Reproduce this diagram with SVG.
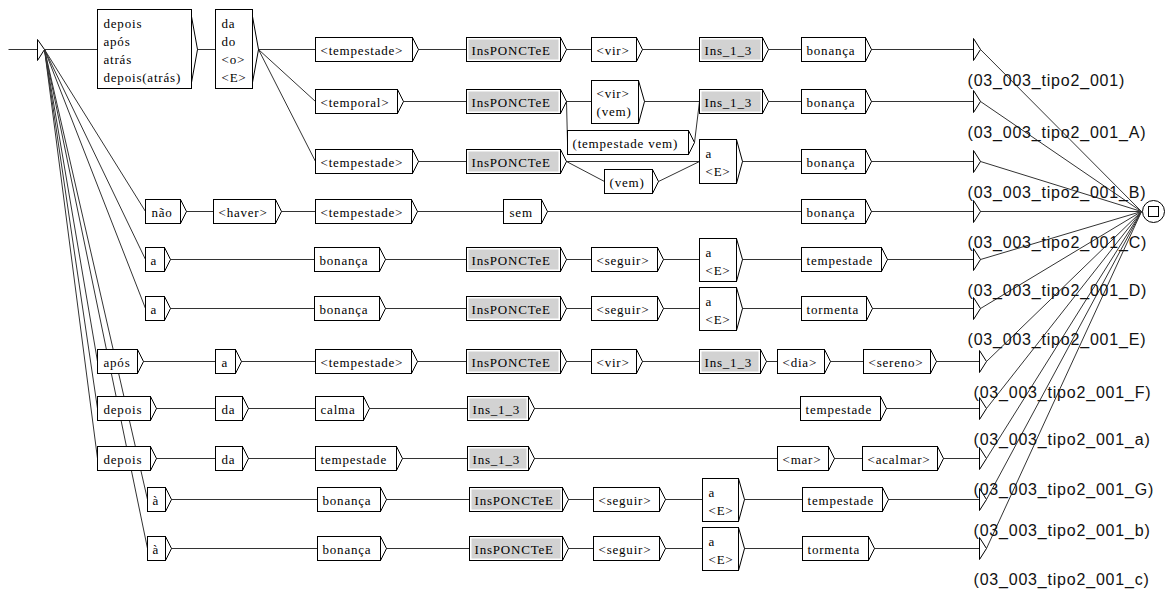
<svg xmlns="http://www.w3.org/2000/svg" width="1169" height="592" viewBox="0 0 1169 592">
<style>
.b{fill:#fff;stroke:#000;stroke-width:1}
.g{fill:#d2d2d2;stroke:none}
.br{fill:none;stroke:#000;stroke-width:1}
.t{font-family:"Liberation Serif","Times New Roman",serif;font-size:13px;letter-spacing:0.8px;fill:#000}
.o{font-family:"Liberation Sans",Arial,sans-serif;font-size:16px;letter-spacing:0.8px;fill:#111}
.c line{stroke:#333;stroke-width:1}
.st{fill:#fff;stroke:#000;stroke-width:1}
</style>
<rect x="0" y="0" width="1169" height="592" fill="#fff"/>
<g transform="translate(0.5,0.5)">
<g class="c" id="connectors">
<line x1="8" y1="49" x2="37" y2="49"/>
<line x1="44" y1="49" x2="97" y2="49"/>
<line x1="44" y1="49" x2="145" y2="211"/>
<line x1="44" y1="49" x2="145" y2="259"/>
<line x1="44" y1="49" x2="145" y2="308"/>
<line x1="44" y1="49" x2="97" y2="361"/>
<line x1="44" y1="49" x2="97" y2="408"/>
<line x1="44" y1="49" x2="97" y2="458"/>
<line x1="44" y1="49" x2="147" y2="499"/>
<line x1="44" y1="49" x2="147" y2="548"/>
<line x1="197" y1="49" x2="215" y2="49"/>
<line x1="258" y1="49" x2="315" y2="49"/>
<line x1="258" y1="49" x2="315" y2="101"/>
<line x1="258" y1="49" x2="315" y2="161"/>
<!-- row1 -->
<line x1="418" y1="49" x2="466" y2="49"/>
<line x1="566" y1="49" x2="591" y2="49"/>
<line x1="642" y1="49" x2="699" y2="49"/>
<line x1="768" y1="49" x2="801" y2="49"/>
<line x1="871" y1="49" x2="973" y2="49"/>
<!-- row2 -->
<line x1="403" y1="101" x2="466" y2="101"/>
<line x1="566" y1="101" x2="591" y2="101"/>
<line x1="566" y1="101" x2="567" y2="142"/>
<line x1="644" y1="101" x2="699" y2="101"/>
<line x1="694" y1="142" x2="699" y2="101"/>
<line x1="768" y1="101" x2="801" y2="101"/>
<line x1="871" y1="101" x2="973" y2="101"/>
<!-- row3 -->
<line x1="418" y1="161" x2="466" y2="161"/>
<line x1="566" y1="161" x2="699" y2="161"/>
<line x1="566" y1="161" x2="604" y2="181"/>
<line x1="658" y1="181" x2="699" y2="161"/>
<line x1="742" y1="161" x2="801" y2="161"/>
<line x1="871" y1="161" x2="973" y2="161"/>
<!-- row4 -->
<line x1="186" y1="211" x2="213" y2="211"/>
<line x1="281" y1="211" x2="315" y2="211"/>
<line x1="417" y1="211" x2="503" y2="211"/>
<line x1="547" y1="211" x2="801" y2="211"/>
<line x1="871" y1="211" x2="973" y2="211"/>
<!-- row5 -->
<line x1="170" y1="259" x2="314" y2="259"/>
<line x1="385" y1="259" x2="466" y2="259"/>
<line x1="566" y1="259" x2="591" y2="259"/>
<line x1="663" y1="259" x2="699" y2="259"/>
<line x1="742" y1="259" x2="801" y2="259"/>
<line x1="887" y1="259" x2="973" y2="259"/>
<!-- row6 -->
<line x1="170" y1="308" x2="314" y2="308"/>
<line x1="385" y1="308" x2="466" y2="308"/>
<line x1="566" y1="308" x2="591" y2="308"/>
<line x1="663" y1="308" x2="699" y2="308"/>
<line x1="742" y1="308" x2="801" y2="308"/>
<line x1="872" y1="308" x2="973" y2="308"/>
<!-- row7 -->
<line x1="143" y1="361" x2="215" y2="361"/>
<line x1="241" y1="361" x2="315" y2="361"/>
<line x1="417" y1="361" x2="466" y2="361"/>
<line x1="566" y1="361" x2="591" y2="361"/>
<line x1="642" y1="361" x2="699" y2="361"/>
<line x1="766" y1="361" x2="777" y2="361"/>
<line x1="830" y1="361" x2="863" y2="361"/>
<line x1="936" y1="361" x2="979" y2="361"/>
<!-- row8 -->
<line x1="156" y1="408" x2="215" y2="408"/>
<line x1="248" y1="408" x2="315" y2="408"/>
<line x1="369" y1="408" x2="467" y2="408"/>
<line x1="534" y1="408" x2="800" y2="408"/>
<line x1="886" y1="408" x2="979" y2="408"/>
<!-- row9 -->
<line x1="156" y1="458" x2="215" y2="458"/>
<line x1="248" y1="458" x2="315" y2="458"/>
<line x1="402" y1="458" x2="467" y2="458"/>
<line x1="534" y1="458" x2="777" y2="458"/>
<line x1="834" y1="458" x2="862" y2="458"/>
<line x1="943" y1="458" x2="979" y2="458"/>
<!-- row10 -->
<line x1="171" y1="499" x2="317" y2="499"/>
<line x1="386" y1="499" x2="469" y2="499"/>
<line x1="568" y1="499" x2="593" y2="499"/>
<line x1="665" y1="499" x2="702" y2="499"/>
<line x1="744" y1="499" x2="802" y2="499"/>
<line x1="888" y1="499" x2="979" y2="499"/>
<!-- row11 -->
<line x1="171" y1="548" x2="317" y2="548"/>
<line x1="386" y1="548" x2="469" y2="548"/>
<line x1="568" y1="548" x2="593" y2="548"/>
<line x1="665" y1="548" x2="702" y2="548"/>
<line x1="744" y1="548" x2="802" y2="548"/>
<line x1="874" y1="548" x2="979" y2="548"/>
<!-- to final -->
<line x1="980" y1="49" x2="1141" y2="211"/>
<line x1="980" y1="101" x2="1141" y2="211"/>
<line x1="980" y1="161" x2="1141" y2="211"/>
<line x1="980" y1="211" x2="1141" y2="211"/>
<line x1="980" y1="259" x2="1141" y2="211"/>
<line x1="980" y1="308" x2="1141" y2="211"/>
<line x1="986" y1="361" x2="1141" y2="211"/>
<line x1="986" y1="408" x2="1141" y2="211"/>
<line x1="986" y1="458" x2="1141" y2="211"/>
<line x1="986" y1="499" x2="1141" y2="211"/>
<line x1="986" y1="548" x2="1141" y2="211"/>
</g>

<g id="start"><polygon class="st" points="37,39 37,60 44,49"/></g>
<g id="final"><circle cx="1153" cy="211" r="11" fill="#fff" stroke="#000"/><rect x="1148" y="206" width="10" height="10" fill="none" stroke="#000"/></g>

<g id="n1"><rect class="b" x="97" y="9" width="94" height="79"/><polyline class="br" points="191,16 197,49 191,82"/><text class="t" x="103" y="27">depois</text><text class="t" x="103" y="45">após</text><text class="t" x="103" y="63">atrás</text><text class="t" x="103" y="81">depois(atrás)</text></g>
<g id="n2"><rect class="b" x="215" y="9" width="37" height="79"/><polyline class="br" points="252,16 258,49 252,82"/><text class="t" x="221" y="27">da</text><text class="t" x="221" y="45">do</text><text class="t" x="221" y="63">&lt;o&gt;</text><text class="t" x="221" y="81">&lt;E&gt;</text></g>

<!-- row 1 -->
<g id="r1a"><rect class="b" x="315" y="37" width="97" height="24"/><polyline class="br" points="412,37 418,49 412,61"/><text class="t" x="320" y="54">&lt;tempestade&gt;</text></g>
<g id="r1b"><rect class="b" x="466" y="37" width="94" height="24"/><rect class="g" x="468" y="39" width="90" height="20"/><polyline class="br" points="560,37 566,49 560,61"/><text class="t" x="471" y="54">InsPONCTeE</text></g>
<g id="r1c"><rect class="b" x="591" y="37" width="45" height="24"/><polyline class="br" points="636,37 642,49 636,61"/><text class="t" x="596" y="54">&lt;vir&gt;</text></g>
<g id="r1d"><rect class="b" x="699" y="37" width="63" height="24"/><rect class="g" x="701" y="39" width="59" height="20"/><polyline class="br" points="762,37 768,49 762,61"/><text class="t" x="704" y="54">Ins_1_3</text></g>
<g id="r1e"><rect class="b" x="801" y="37" width="64" height="24"/><polyline class="br" points="865,37 871,49 865,61"/><text class="t" x="806" y="54">bonança</text></g>
<g id="r1f"><polygon class="st" points="973,38 973,60 980,49"/><text class="o" x="967" y="85">(03_003_tipo2_001)</text></g>

<!-- row 2 -->
<g id="r2a"><rect class="b" x="315" y="89" width="82" height="24"/><polyline class="br" points="397,89 403,101 397,113"/><text class="t" x="320" y="106">&lt;temporal&gt;</text></g>
<g id="r2b"><rect class="b" x="466" y="89" width="94" height="24"/><rect class="g" x="468" y="91" width="90" height="20"/><polyline class="br" points="560,89 566,101 560,113"/><text class="t" x="471" y="106">InsPONCTeE</text></g>
<g id="r2c"><rect class="b" x="591" y="80" width="47" height="43"/><polyline class="br" points="638,80 644,101 638,123"/><text class="t" x="596" y="97">&lt;vir&gt;</text><text class="t" x="596" y="115">(vem)</text></g>
<g id="r2d"><rect class="b" x="567" y="130" width="121" height="24"/><polyline class="br" points="688,130 694,142 688,154"/><text class="t" x="572" y="147">(tempestade vem)</text></g>
<g id="r2e"><rect class="b" x="699" y="89" width="63" height="24"/><rect class="g" x="701" y="91" width="59" height="20"/><polyline class="br" points="762,89 768,101 762,113"/><text class="t" x="704" y="106">Ins_1_3</text></g>
<g id="r2f"><rect class="b" x="801" y="89" width="64" height="24"/><polyline class="br" points="865,89 871,101 865,113"/><text class="t" x="806" y="106">bonança</text></g>
<g id="r2g"><polygon class="st" points="973,90 973,112 980,101"/><text class="o" x="967" y="137">(03_003_tipo2_001_A)</text></g>

<!-- row 3 -->
<g id="r3a"><rect class="b" x="315" y="149" width="97" height="24"/><polyline class="br" points="412,149 418,161 412,173"/><text class="t" x="320" y="166">&lt;tempestade&gt;</text></g>
<g id="r3b"><rect class="b" x="466" y="149" width="94" height="24"/><rect class="g" x="468" y="151" width="90" height="20"/><polyline class="br" points="560,149 566,161 560,173"/><text class="t" x="471" y="166">InsPONCTeE</text></g>
<g id="r3c"><rect class="b" x="604" y="169" width="48" height="24"/><polyline class="br" points="652,169 658,181 652,193"/><text class="t" x="609" y="186">(vem)</text></g>
<g id="r3d"><rect class="b" x="699" y="139" width="37" height="44"/><polyline class="br" points="736,139 742,161 736,183"/><text class="t" x="705" y="157">a</text><text class="t" x="705" y="175">&lt;E&gt;</text></g>
<g id="r3e"><rect class="b" x="801" y="149" width="64" height="24"/><polyline class="br" points="865,149 871,161 865,173"/><text class="t" x="806" y="166">bonança</text></g>
<g id="r3f"><polygon class="st" points="973,150 973,172 980,161"/><text class="o" x="967" y="197">(03_003_tipo2_001_B)</text></g>

<!-- row 4 -->
<g id="r4a"><rect class="b" x="145" y="199" width="35" height="24"/><polyline class="br" points="180,199 186,211 180,223"/><text class="t" x="151" y="216">não</text></g>
<g id="r4b"><rect class="b" x="213" y="199" width="62" height="24"/><polyline class="br" points="275,199 281,211 275,223"/><text class="t" x="218" y="216">&lt;haver&gt;</text></g>
<g id="r4c"><rect class="b" x="315" y="199" width="96" height="24"/><polyline class="br" points="411,199 417,211 411,223"/><text class="t" x="320" y="216">&lt;tempestade&gt;</text></g>
<g id="r4d"><rect class="b" x="503" y="199" width="38" height="24"/><polyline class="br" points="541,199 547,211 541,223"/><text class="t" x="509" y="216">sem</text></g>
<g id="r4e"><rect class="b" x="801" y="199" width="64" height="24"/><polyline class="br" points="865,199 871,211 865,223"/><text class="t" x="806" y="216">bonança</text></g>
<g id="r4f"><polygon class="st" points="973,200 973,222 980,211"/><text class="o" x="967" y="247">(03_003_tipo2_001_C)</text></g>

<!-- row 5 -->
<g id="r5a"><rect class="b" x="145" y="247" width="19" height="24"/><polyline class="br" points="164,247 170,259 164,271"/><text class="t" x="150" y="264">a</text></g>
<g id="r5b"><rect class="b" x="314" y="247" width="65" height="24"/><polyline class="br" points="379,247 385,259 379,271"/><text class="t" x="319" y="264">bonança</text></g>
<g id="r5c"><rect class="b" x="466" y="247" width="94" height="24"/><rect class="g" x="468" y="249" width="90" height="20"/><polyline class="br" points="560,247 566,259 560,271"/><text class="t" x="471" y="264">InsPONCTeE</text></g>
<g id="r5d"><rect class="b" x="591" y="247" width="66" height="24"/><polyline class="br" points="657,247 663,259 657,271"/><text class="t" x="596" y="264">&lt;seguir&gt;</text></g>
<g id="r5e"><rect class="b" x="699" y="238" width="37" height="43"/><polyline class="br" points="736,238 742,259 736,281"/><text class="t" x="705" y="256">a</text><text class="t" x="705" y="274">&lt;E&gt;</text></g>
<g id="r5f"><rect class="b" x="801" y="247" width="80" height="24"/><polyline class="br" points="881,247 887,259 881,271"/><text class="t" x="806" y="264">tempestade</text></g>
<g id="r5g"><polygon class="st" points="973,248 973,270 980,259"/><text class="o" x="967" y="295">(03_003_tipo2_001_D)</text></g>

<!-- row 6 -->
<g id="r6a"><rect class="b" x="145" y="296" width="19" height="24"/><polyline class="br" points="164,296 170,308 164,320"/><text class="t" x="150" y="313">a</text></g>
<g id="r6b"><rect class="b" x="314" y="296" width="65" height="24"/><polyline class="br" points="379,296 385,308 379,320"/><text class="t" x="319" y="313">bonança</text></g>
<g id="r6c"><rect class="b" x="466" y="296" width="94" height="24"/><rect class="g" x="468" y="298" width="90" height="20"/><polyline class="br" points="560,296 566,308 560,320"/><text class="t" x="471" y="313">InsPONCTeE</text></g>
<g id="r6d"><rect class="b" x="591" y="296" width="66" height="24"/><polyline class="br" points="657,296 663,308 657,320"/><text class="t" x="596" y="313">&lt;seguir&gt;</text></g>
<g id="r6e"><rect class="b" x="699" y="287" width="37" height="43"/><polyline class="br" points="736,287 742,308 736,330"/><text class="t" x="705" y="305">a</text><text class="t" x="705" y="323">&lt;E&gt;</text></g>
<g id="r6f"><rect class="b" x="801" y="296" width="65" height="24"/><polyline class="br" points="866,296 872,308 866,320"/><text class="t" x="806" y="313">tormenta</text></g>
<g id="r6g"><polygon class="st" points="973,297 973,319 980,308"/><text class="o" x="967" y="344">(03_003_tipo2_001_E)</text></g>

<!-- row 7 -->
<g id="r7a"><rect class="b" x="97" y="349" width="40" height="24"/><polyline class="br" points="137,349 143,361 137,373"/><text class="t" x="103" y="366">após</text></g>
<g id="r7b"><rect class="b" x="215" y="349" width="20" height="24"/><polyline class="br" points="235,349 241,361 235,373"/><text class="t" x="221" y="366">a</text></g>
<g id="r7c"><rect class="b" x="315" y="349" width="96" height="24"/><polyline class="br" points="411,349 417,361 411,373"/><text class="t" x="320" y="366">&lt;tempestade&gt;</text></g>
<g id="r7d"><rect class="b" x="466" y="349" width="94" height="24"/><rect class="g" x="468" y="351" width="90" height="20"/><polyline class="br" points="560,349 566,361 560,373"/><text class="t" x="471" y="366">InsPONCTeE</text></g>
<g id="r7e"><rect class="b" x="591" y="349" width="45" height="24"/><polyline class="br" points="636,349 642,361 636,373"/><text class="t" x="596" y="366">&lt;vir&gt;</text></g>
<g id="r7f"><rect class="b" x="699" y="349" width="61" height="24"/><rect class="g" x="701" y="351" width="57" height="20"/><polyline class="br" points="760,349 766,361 760,373"/><text class="t" x="704" y="366">Ins_1_3</text></g>
<g id="r7g"><rect class="b" x="777" y="349" width="47" height="24"/><polyline class="br" points="824,349 830,361 824,373"/><text class="t" x="782" y="366">&lt;dia&gt;</text></g>
<g id="r7h"><rect class="b" x="863" y="349" width="67" height="24"/><polyline class="br" points="930,349 936,361 930,373"/><text class="t" x="868" y="366">&lt;sereno&gt;</text></g>
<g id="r7i"><polygon class="st" points="979,350 979,372 986,361"/><text class="o" x="973" y="397">(03_003_tipo2_001_F)</text></g>

<!-- row 8 -->
<g id="r8a"><rect class="b" x="97" y="396" width="53" height="24"/><polyline class="br" points="150,396 156,408 150,420"/><text class="t" x="103" y="413">depois</text></g>
<g id="r8b"><rect class="b" x="215" y="396" width="27" height="24"/><polyline class="br" points="242,396 248,408 242,420"/><text class="t" x="221" y="413">da</text></g>
<g id="r8c"><rect class="b" x="315" y="396" width="48" height="24"/><polyline class="br" points="363,396 369,408 363,420"/><text class="t" x="320" y="413">calma</text></g>
<g id="r8d"><rect class="b" x="467" y="396" width="61" height="24"/><rect class="g" x="469" y="398" width="57" height="20"/><polyline class="br" points="528,396 534,408 528,420"/><text class="t" x="472" y="413">Ins_1_3</text></g>
<g id="r8e"><rect class="b" x="800" y="396" width="80" height="24"/><polyline class="br" points="880,396 886,408 880,420"/><text class="t" x="805" y="413">tempestade</text></g>
<g id="r8f"><polygon class="st" points="979,397 979,419 986,408"/><text class="o" x="973" y="444">(03_003_tipo2_001_a)</text></g>

<!-- row 9 -->
<g id="r9a"><rect class="b" x="97" y="446" width="53" height="24"/><polyline class="br" points="150,446 156,458 150,470"/><text class="t" x="103" y="463">depois</text></g>
<g id="r9b"><rect class="b" x="215" y="446" width="27" height="24"/><polyline class="br" points="242,446 248,458 242,470"/><text class="t" x="221" y="463">da</text></g>
<g id="r9c"><rect class="b" x="315" y="446" width="81" height="24"/><polyline class="br" points="396,446 402,458 396,470"/><text class="t" x="320" y="463">tempestade</text></g>
<g id="r9d"><rect class="b" x="467" y="446" width="61" height="24"/><rect class="g" x="469" y="448" width="57" height="20"/><polyline class="br" points="528,446 534,458 528,470"/><text class="t" x="472" y="463">Ins_1_3</text></g>
<g id="r9e"><rect class="b" x="777" y="446" width="51" height="24"/><polyline class="br" points="828,446 834,458 828,470"/><text class="t" x="782" y="463">&lt;mar&gt;</text></g>
<g id="r9f"><rect class="b" x="862" y="446" width="75" height="24"/><polyline class="br" points="937,446 943,458 937,470"/><text class="t" x="867" y="463">&lt;acalmar&gt;</text></g>
<g id="r9g"><polygon class="st" points="979,447 979,469 986,458"/><text class="o" x="973" y="494">(03_003_tipo2_001_G)</text></g>

<!-- row 10 -->
<g id="r10a"><rect class="b" x="147" y="487" width="18" height="24"/><polyline class="br" points="165,487 171,499 165,511"/><text class="t" x="152" y="504">à</text></g>
<g id="r10b"><rect class="b" x="317" y="487" width="63" height="24"/><polyline class="br" points="380,487 386,499 380,511"/><text class="t" x="322" y="504">bonança</text></g>
<g id="r10c"><rect class="b" x="469" y="487" width="93" height="24"/><rect class="g" x="471" y="489" width="89" height="20"/><polyline class="br" points="562,487 568,499 562,511"/><text class="t" x="474" y="504">InsPONCTeE</text></g>
<g id="r10d"><rect class="b" x="593" y="487" width="66" height="24"/><polyline class="br" points="659,487 665,499 659,511"/><text class="t" x="598" y="504">&lt;seguir&gt;</text></g>
<g id="r10e"><rect class="b" x="702" y="478" width="36" height="43"/><polyline class="br" points="738,478 744,499 738,521"/><text class="t" x="708" y="496">a</text><text class="t" x="708" y="514">&lt;E&gt;</text></g>
<g id="r10f"><rect class="b" x="802" y="487" width="80" height="24"/><polyline class="br" points="882,487 888,499 882,511"/><text class="t" x="807" y="504">tempestade</text></g>
<g id="r10g"><polygon class="st" points="979,488 979,510 986,499"/><text class="o" x="973" y="535">(03_003_tipo2_001_b)</text></g>

<!-- row 11 -->
<g id="r11a"><rect class="b" x="147" y="536" width="18" height="24"/><polyline class="br" points="165,536 171,548 165,560"/><text class="t" x="152" y="553">à</text></g>
<g id="r11b"><rect class="b" x="317" y="536" width="63" height="24"/><polyline class="br" points="380,536 386,548 380,560"/><text class="t" x="322" y="553">bonança</text></g>
<g id="r11c"><rect class="b" x="469" y="536" width="93" height="24"/><rect class="g" x="471" y="538" width="89" height="20"/><polyline class="br" points="562,536 568,548 562,560"/><text class="t" x="474" y="553">InsPONCTeE</text></g>
<g id="r11d"><rect class="b" x="593" y="536" width="66" height="24"/><polyline class="br" points="659,536 665,548 659,560"/><text class="t" x="598" y="553">&lt;seguir&gt;</text></g>
<g id="r11e"><rect class="b" x="702" y="527" width="36" height="43"/><polyline class="br" points="738,527 744,548 738,570"/><text class="t" x="708" y="545">a</text><text class="t" x="708" y="563">&lt;E&gt;</text></g>
<g id="r11f"><rect class="b" x="802" y="536" width="66" height="24"/><polyline class="br" points="868,536 874,548 868,560"/><text class="t" x="807" y="553">tormenta</text></g>
<g id="r11g"><polygon class="st" points="979,537 979,559 986,548"/><text class="o" x="973" y="584">(03_003_tipo2_001_c)</text></g>
</g>
</svg>
